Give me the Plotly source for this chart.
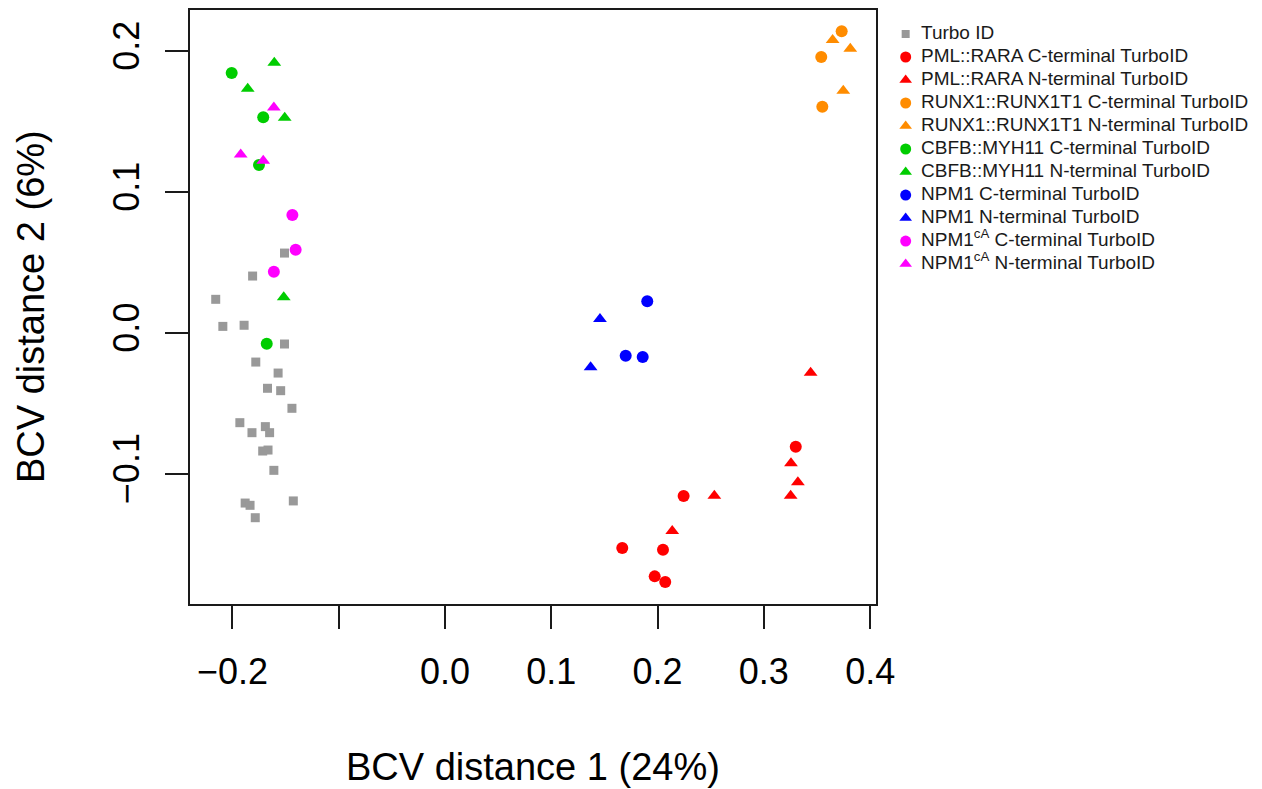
import plotly.graph_objects as go

# ---------------- data ----------------
turbo_x = [-0.151, -0.181, -0.2157, -0.209, -0.189, -0.151, -0.178, -0.157, -0.167, -0.1546, -0.144,
           -0.193, -0.1816, -0.169, -0.165, -0.1715, -0.1665, -0.161, -0.188, -0.1834, -0.1427, -0.1785]
turbo_y = [0.0567, 0.0404, 0.0239, 0.0047, 0.0055, -0.0078, -0.0206, -0.0284, -0.0392, -0.0409, -0.0534,
           -0.0636, -0.0707, -0.0664, -0.0707, -0.0837, -0.0830, -0.0974, -0.1206, -0.1222, -0.1191, -0.1310]

pml_c_x = [0.330, 0.2245, 0.1668, 0.2051, 0.1973, 0.2072]
pml_c_y = [-0.0806, -0.1156, -0.1525, -0.1537, -0.1726, -0.1766]
pml_n_x = [0.344, 0.3255, 0.332, 0.3252, 0.2534, 0.2138]
pml_n_y = [-0.0281, -0.0924, -0.1059, -0.1154, -0.1154, -0.1404]

runx_c_x = [0.3732, 0.354, 0.355]
runx_c_y = [0.2140, 0.1957, 0.1605]
runx_n_x = [0.3647, 0.3813, 0.3747]
runx_n_y = [0.2078, 0.2016, 0.1718]

cbfb_c_x = [-0.2007, -0.171, -0.175, -0.1677]
cbfb_c_y = [0.1844, 0.1530, 0.1191, -0.0076]
cbfb_n_x = [-0.1606, -0.1856, -0.1508, -0.1517]
cbfb_n_y = [0.1917, 0.1733, 0.1527, 0.0253]

npm_c_x = [0.1903, 0.170, 0.186]
npm_c_y = [0.0225, -0.0161, -0.0170]
npm_n_x = [0.1458, 0.137]
npm_n_y = [0.0099, -0.0243]

npmca_c_x = [-0.1436, -0.1405, -0.161]
npmca_c_y = [0.0837, 0.0591, 0.0435]
npmca_n_x = [-0.161, -0.1922, -0.171]
npmca_n_y = [0.1600, 0.1267, 0.1222]

x_ticks = [-0.2, 0.0, 0.1, 0.2, 0.3, 0.4]
x_ticktext = ["\u22120.2", "0.0", "0.1", "0.2", "0.3", "0.4"]
x_unlabeled_ticks = [-0.1]
y_ticks = [-0.1, 0.0, 0.1, 0.2]
y_ticktext = ["\u22120.1", "0.0", "0.1", "0.2"]

series_names = [
    "Turbo ID",
    "PML::RARA C-terminal TurboID",
    "PML::RARA N-terminal TurboID",
    "RUNX1::RUNX1T1 C-terminal TurboID",
    "RUNX1::RUNX1T1 N-terminal TurboID",
    "CBFB::MYH11 C-terminal TurboID",
    "CBFB::MYH11 N-terminal TurboID",
    "NPM1 C-terminal TurboID",
    "NPM1 N-terminal TurboID",
    "NPM1<sup>cA</sup> C-terminal TurboID",
    "NPM1<sup>cA</sup> N-terminal TurboID",
]
series_x = [turbo_x, pml_c_x, pml_n_x, runx_c_x, runx_n_x, cbfb_c_x, cbfb_n_x,
            npm_c_x, npm_n_x, npmca_c_x, npmca_n_x]
series_y = [turbo_y, pml_c_y, pml_n_y, runx_c_y, runx_n_y, cbfb_c_y, cbfb_n_y,
            npm_c_y, npm_n_y, npmca_c_y, npmca_n_y]
series_colors = ["#999999", "#FF0000", "#FF0000", "#FF8C00", "#FF8C00", "#00CD00", "#00CD00",
                 "#0000FF", "#0000FF", "#FF00FF", "#FF00FF"]
series_symbols = ["square", "circle", "triangle-up", "circle", "triangle-up", "circle", "triangle-up",
                  "circle", "triangle-up", "circle", "triangle-up"]
sizes = {"square": 9, "circle": 12, "triangle-up": 12}

# page has an 8px body margin, so the figure is offset by 8px
W, H = 1246, 781
ML, MR, MT, MB = 182, 0, 2, 185
PW = W - ML - MR
PH = H - MT - MB
PLOT_RIGHT = 868
LEG_LEFT = 882

FONT = "Liberation Sans, Arial, sans-serif"
INK = "#1a1a1a"

fig = go.Figure()
for name, xs, ys, col, sym in zip(series_names, series_x, series_y, series_colors, series_symbols):
    fig.add_trace(go.Scatter(
        x=xs, y=ys, mode="markers", name=name, showlegend=False,
        marker=dict(color=col, symbol=sym, size=sizes[sym], line=dict(width=0), opacity=1),
        xaxis="x", yaxis="y",
    ))

# legend drawn on its own hidden axes (one row per series)
rows = list(range(len(series_names)))
fig.add_trace(go.Scatter(
    x=[0] * len(rows), y=rows, mode="markers", showlegend=False, hoverinfo="skip",
    marker=dict(color=series_colors, symbol=series_symbols, opacity=1,
                size=[sizes[s] - 1 for s in series_symbols], line=dict(width=0)),
    xaxis="x2", yaxis="y2", cliponaxis=False,
))
fig.add_trace(go.Scatter(
    x=[0.44] * len(rows), y=rows, mode="text", text=series_names, showlegend=False,
    hoverinfo="skip", textposition="middle right", cliponaxis=False,
    textfont=dict(size=19, family=FONT, color=INK),
    xaxis="x2", yaxis="y2",
))

axis_common = dict(showgrid=False, zeroline=False, showline=True, mirror=True,
                   linecolor=INK, linewidth=2, ticks="outside", ticklen=23,
                   tickwidth=2, tickcolor=INK, automargin=False,
                   tickfont=dict(size=36, family=FONT, color="black"))

fig.update_layout(
    width=W, height=H,
    margin=dict(l=ML, r=MR, t=MT, b=MB),
    paper_bgcolor="white", plot_bgcolor="white",
    font=dict(family=FONT, color="black"),
    showlegend=False,
    xaxis=dict(domain=[0, (PLOT_RIGHT - ML) / PW], range=[-0.2399, 0.4055],
               tickvals=x_ticks, ticktext=x_ticktext, ticklabelstandoff=12,
               minor=dict(tickvals=x_unlabeled_ticks, ticks="outside", ticklen=23,
                          tickwidth=2, tickcolor=INK, showgrid=False),
               **axis_common),
    yaxis=dict(domain=[0, 1], range=[-0.1922, 0.2291],
               tickvals=y_ticks, ticktext=y_ticktext, tickangle=-90, ticklabelstandoff=12,
               **axis_common),
    xaxis2=dict(domain=[(LEG_LEFT - ML) / PW, 1], range=[-0.45, 10], visible=False,
                anchor="y2", fixedrange=True),
    yaxis2=dict(domain=[0, 1], range=[24.78, -1.0435], visible=False,
                anchor="x2", fixedrange=True),
    annotations=[
        dict(text="BCV distance 1 (24%)", xref="paper", yref="paper",
             x=(525 - ML) / PW, y=-(759 - (H - MB)) / PH,
             xanchor="center", yanchor="middle", showarrow=False,
             font=dict(size=38, family=FONT, color="black")),
        dict(text="BCV distance 2 (6%)", xref="paper", yref="paper",
             x=-(ML - 23) / PW, y=((H - MB) - 299) / PH,
             xanchor="center", yanchor="middle", showarrow=False, textangle=-90,
             font=dict(size=38, family=FONT, color="black")),
    ],
)

fig.write_html("out.html")
